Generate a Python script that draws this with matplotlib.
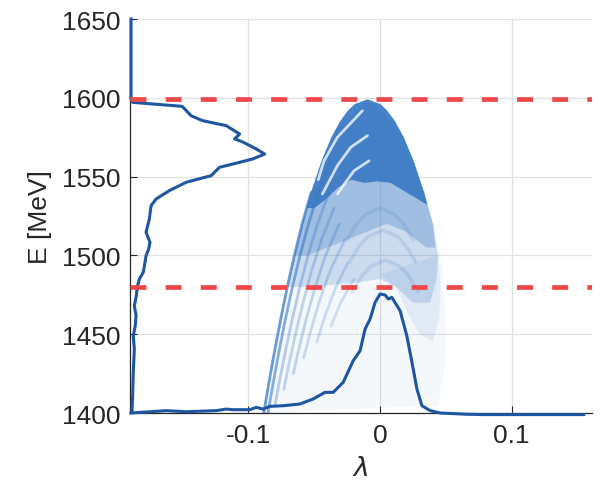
import matplotlib
matplotlib.use('Agg')
import matplotlib.pyplot as plt

plt.rcParams['font.family'] = ['Liberation Sans', 'DejaVu Sans']
plt.rcParams['lines.scale_dashes'] = False

# ---------------- axes / ticks ----------------
x_ticks = [-0.1, 0, 0.1]
x_tick_labels = ['-0.1', '0', '0.1']
y_ticks = [1400, 1450, 1500, 1550, 1600, 1650]
y_tick_labels = ['1400', '1450', '1500', '1550', '1600', '1650']
x_lim = [-0.19, 0.161]
y_lim = [1400, 1650]
x_label = 'λ'
y_label = 'E [MeV]'

# reference energies (red dashed)
ref_energies = [1599, 1480]

# ---------------- energy profile (left) ----------------
eprof_lam = [-0.1892, -0.1892, -0.1893, -0.1880, -0.1504, -0.1435, -0.1349, -0.1168,
             -0.1067, -0.1105, -0.1044, -0.0940, -0.0877, -0.0968, -0.1118, -0.1220,
             -0.1283, -0.1473, -0.1601, -0.1702, -0.1740, -0.1753, -0.1778, -0.1748,
             -0.1758, -0.1778, -0.1786, -0.1799, -0.1829, -0.1842, -0.1854, -0.1867,
             -0.1854, -0.1860, -0.1875, -0.1867, -0.1875, -0.1880, -0.1885]
eprof_E = [1650.0, 1600.5, 1599.2, 1597.1, 1594.6, 1588.6, 1585.5, 1582.3,
           1577.0, 1573.9, 1572.0, 1567.5, 1564.3, 1561.2, 1558.0, 1555.9,
           1550.6, 1546.4, 1541.1, 1535.8, 1531.5, 1523.1, 1514.7, 1508.3,
           1504.1, 1499.8, 1495.6, 1489.3, 1485.0, 1480.8, 1473.4, 1468.1,
           1461.7, 1455.4, 1449.0, 1440.6, 1425.8, 1411.0, 1400.4]

# ---------------- lambda profile (bottom) ----------------
lprof_lam = [-0.1893, -0.1626, -0.1473, -0.1245, -0.1168, -0.1118, -0.0991, -0.0940,
             -0.0889, -0.0838, -0.0737, -0.0610, -0.0508, -0.0419, -0.0356, -0.0280,
             -0.0204, -0.0152, -0.0114, -0.0076, -0.0038, 0.0000, 0.0038, 0.0063,
             0.0089, 0.0152, 0.0203, 0.0242, 0.0280, 0.0318, 0.0381, 0.0457,
             0.0661, 0.0785, 0.1547]
lprof_E = [1400.0, 1401.5, 1400.8, 1401.5, 1402.5, 1402.1, 1402.1, 1403.6,
           1402.5, 1404.2, 1404.6, 1405.7, 1408.9, 1413.1, 1413.1, 1419.5,
           1433.2, 1439.5, 1453.3, 1459.6, 1470.2, 1475.5, 1474.9, 1472.3,
           1473.4, 1464.9, 1449.0, 1432.2, 1415.2, 1404.6, 1401.5, 1400.0,
           1399.2, 1399.0, 1399.0]

# ---------------- particle cloud (read outlines) ----------------
# faint outer cloud
faint_lam = [-0.0884, -0.0843, -0.0800, -0.0754, -0.0705, -0.0651, -0.0592, -0.0524,
             -0.0444, -0.0369, -0.0304, -0.0243, -0.0192, -0.0095, 0.0002, 0.0114,
             0.0254, 0.0402, 0.0461, 0.0480, 0.0500, 0.0500, 0.0480, 0.0440]
faint_E = [1400, 1420, 1440, 1460, 1480, 1500, 1520, 1540,
           1560, 1575, 1585, 1592, 1596, 1599, 1596, 1585,
           1560, 1520, 1500, 1480, 1460, 1440, 1420, 1405]

# light right-hand tail
light_lam = [0.0440, 0.0460, 0.0450, 0.0400, 0.0300, 0.0200, 0.0120, 0.0000]
light_E = [1500, 1480, 1460, 1445, 1450, 1465, 1480, 1488]

# medium-density body
medium_lam = [-0.0705, -0.0651, -0.0592, -0.0524, -0.0444, -0.0369, -0.0304, -0.0243,
              -0.0192, -0.0095, 0.0002, 0.0114, 0.0179, 0.0254, 0.0334, 0.0402,
              0.0440, 0.0430, 0.0380, 0.0250, 0.0120, 0.0000, -0.0150, -0.0300,
              -0.0500]
medium_E = [1480, 1500, 1520, 1540, 1560, 1575, 1585, 1592,
            1596, 1599, 1596, 1585, 1575, 1560, 1540, 1520,
            1500, 1485, 1470, 1470, 1480, 1485, 1483, 1482,
            1480]

# upper half, denser
upper_lam = [-0.0651, -0.0592, -0.0524, -0.0444, -0.0369, -0.0095, 0.0179, 0.0254,
             0.0334, 0.0402, 0.0420, 0.0350, 0.0200, 0.0050, -0.0100, -0.0250,
             -0.0400, -0.0550]
upper_E = [1500, 1520, 1540, 1560, 1575, 1599, 1575, 1560,
           1540, 1520, 1505, 1505, 1515, 1520, 1515, 1510,
           1505, 1500]

# dense core
dense_lam = [-0.0559, -0.0524, -0.0444, -0.0369, -0.0304, -0.0243, -0.0192, -0.0095,
             0.0002, 0.0053, 0.0114, 0.0179, 0.0254, 0.0334, 0.0360, 0.0280,
             0.0180, 0.0080, -0.0020, -0.0120, -0.0220, -0.0320, -0.0420, -0.0500]
dense_E = [1530, 1540, 1560, 1575, 1585, 1592, 1596, 1599,
           1596, 1592, 1585, 1575, 1560, 1540, 1532, 1536,
           1541, 1546, 1547, 1546, 1548, 1543, 1535, 1530]

# left legs of the nested arches
legs_lam = [
    [-0.0524, -0.0592, -0.0651, -0.0705, -0.0754, -0.0800, -0.0843, -0.0884],
    [-0.0375, -0.0469, -0.0544, -0.0608, -0.0666, -0.0718, -0.0766, -0.0810, -0.0852],
    [-0.0386, -0.0475, -0.0548, -0.0610, -0.0666, -0.0717, -0.0765, -0.0798],
    [-0.0350, -0.0445, -0.0521, -0.0585, -0.0643, -0.0695, -0.0731],
    [-0.0310, -0.0414, -0.0493, -0.0560, -0.0619, -0.0659],
    [-0.0267, -0.0381, -0.0465, -0.0534, -0.0580],
    [-0.0247, -0.0336, -0.0425, -0.0481],
    [-0.0197, -0.0300, -0.0374],
]
legs_E = [
    [1540, 1520, 1500, 1480, 1460, 1440, 1420, 1400],
    [1560, 1540, 1520, 1500, 1480, 1460, 1440, 1420, 1400],
    [1540, 1520, 1500, 1480, 1460, 1440, 1420, 1405],
    [1530, 1510, 1490, 1470, 1450, 1430, 1415],
    [1520, 1500, 1480, 1460, 1440, 1425],
    [1510, 1490, 1470, 1450, 1435],
    [1495, 1480, 1460, 1445],
    [1485, 1470, 1455],
]
legs_alpha = [0.75, 0.6, 0.35, 0.3, 0.3, 0.26, 0.24, 0.22]

# central low arches
arches_lam = [
    [-0.0250, -0.0177, -0.0110, 0.0000, 0.0110, 0.0177, 0.0250],
    [-0.0230, -0.0157, -0.0092, 0.0020, 0.0132, 0.0197, 0.0270],
    [-0.0210, -0.0137, -0.0072, 0.0040, 0.0152, 0.0217, 0.0290],
]
arches_E = [
    [1510, 1520, 1526, 1530, 1526, 1520, 1510],
    [1496, 1506, 1512, 1516, 1512, 1506, 1496],
    [1477, 1487, 1493, 1497, 1493, 1487, 1477],
]

# white gaps inside the dense core
gaps_lam = [
    [-0.0134, -0.0324, -0.0426, -0.0470],
    [-0.0096, -0.0223, -0.0324, -0.0400, -0.0438],
    [-0.0084, -0.0198, -0.0274, -0.0324],
]
gaps_E = [
    [1591.8, 1575.0, 1560.0, 1548.0],
    [1576.0, 1568.6, 1557.0, 1545.0, 1539.0],
    [1560.0, 1553.7, 1545.0, 1539.0],
]

# ---------------- styles ----------------
c_cloud = '#3b7bc4'
c_line = '#1f56a2'
c_red = '#f04848'
c_axis = '#262626'
c_grid = '#e2e2e2'
fs = 19

fig = plt.figure(figsize=(6.01, 4.89), dpi=100)
ax = fig.add_axes([130 / 601, 1 - 414 / 489, 462 / 601, 394 / 489])

ax.fill(faint_lam, faint_E, color=c_cloud, alpha=0.05, lw=0, zorder=1.0)
ax.fill(light_lam, light_E, color=c_cloud, alpha=0.10, lw=0, zorder=1.05)
ax.fill(medium_lam, medium_E, color=c_cloud, alpha=0.22, lw=0, zorder=1.1)
ax.fill(upper_lam, upper_E, color=c_cloud, alpha=0.30, lw=0, zorder=1.15)
ax.fill(dense_lam, dense_E, color=c_cloud, alpha=0.93, lw=0, zorder=1.2)
for lam, E, a in zip(legs_lam, legs_E, legs_alpha):
    ax.plot(lam, E, color=c_cloud, alpha=a, lw=2.0, solid_capstyle='round', zorder=1.3)
for lam, E in zip(arches_lam, arches_E):
    ax.plot(lam, E, color=c_cloud, alpha=0.16, lw=2.5, solid_joinstyle='round', zorder=1.3)
for lam, E in zip(gaps_lam, gaps_E):
    ax.plot(lam, E, color='white', alpha=0.75, lw=2.0, solid_capstyle='round', zorder=1.5)

ax.plot(eprof_lam, eprof_E, color=c_line, lw=2.2, zorder=3, clip_on=False)
ax.plot(lprof_lam, lprof_E, color=c_line, lw=2.2, zorder=3, clip_on=False)

for e in ref_energies:
    ax.axhline(e, color=c_red, lw=3.4, dashes=(11.5, 13.8), dash_capstyle='butt', zorder=4)

ax.set_xlim(x_lim)
ax.set_ylim(y_lim)
ax.set_xticks(x_ticks)
ax.set_xticklabels(x_tick_labels)
ax.set_yticks(y_ticks)
ax.set_yticklabels(y_tick_labels)
ax.grid(True, color=c_grid, lw=0.9)
ax.set_axisbelow(True)
for s in ['top', 'right']:
    ax.spines[s].set_visible(False)
for s in ['left', 'bottom']:
    ax.spines[s].set_color(c_axis)
    ax.spines[s].set_linewidth(0.9)
ax.tick_params(direction='in', length=5, width=0.8, colors=c_axis, labelsize=fs, pad=7)
ax.set_ylabel(y_label, fontsize=fs, color=c_axis, labelpad=7)
ax.set_xlabel(x_label, fontsize=fs, color=c_axis, labelpad=6,
              fontstyle='italic', family=['DejaVu Sans'])

fig.savefig('out.png', dpi=100)
